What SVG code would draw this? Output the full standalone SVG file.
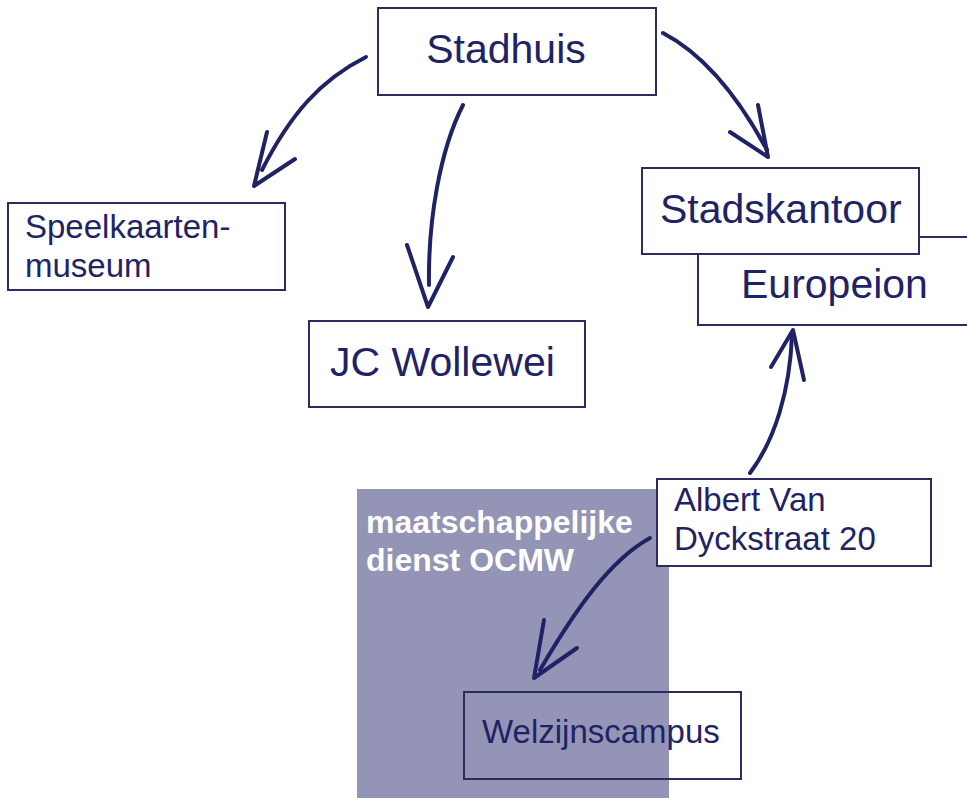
<svg xmlns="http://www.w3.org/2000/svg" width="967" height="798" viewBox="0 0 967 798">
<style>
.box{fill:#ffffff;stroke:#2a2d5e;stroke-width:2}
.t{font-family:"Liberation Sans",Arial,sans-serif;fill:#1f2366}
.big{font-size:41px}
.mid{font-size:33px}
.w{font-family:"Liberation Sans",Arial,sans-serif;fill:#ffffff;font-weight:bold;font-size:32px}
.c{fill:none;stroke:#1f2366;stroke-width:4;stroke-linecap:round;stroke-linejoin:round}
</style>
<rect width="967" height="798" fill="#ffffff"/>
<g id="ocmw">
<rect x="357" y="489" width="312" height="309" fill="#9394b6"/>
<text class="w" x="366" y="533">maatschappelijke</text>
<text class="w" x="366" y="571">dienst OCMW</text>
</g>
<g id="europeion">
<rect class="box" x="698" y="237" width="280" height="88"/>
<text class="t big" x="741" y="298">Europeion</text>
</g>
<g id="stadskantoor">
<rect class="box" x="642" y="168" width="277" height="86"/>
<text class="t big" x="660" y="223">Stadskantoor</text>
</g>
<g id="stadhuis">
<rect class="box" x="378" y="8" width="278" height="87"/>
<text class="t big" x="506" y="63" text-anchor="middle">Stadhuis</text>
</g>
<g id="speelkaarten">
<rect class="box" x="8" y="203" width="277" height="87"/>
<text class="t mid" x="25" y="238">Speelkaarten-</text>
<text class="t mid" x="25" y="277">museum</text>
</g>
<g id="jcwollewei">
<rect class="box" x="309" y="321" width="276" height="86"/>
<text class="t big" x="330" y="376">JC Wollewei</text>
</g>
<g id="albertvan">
<rect class="box" x="657" y="479" width="274" height="87"/>
<text class="t mid" x="674" y="511">Albert Van</text>
<text class="t mid" x="674" y="550">Dyckstraat 20</text>
</g>
<g id="welzijnscampus">
<rect x="464" y="692" width="277" height="87" fill="none" stroke="#2a2d5e" stroke-width="2"/>
<text class="t mid" x="482" y="743">Welzijnscampus</text>
</g>
<g id="connectors">
<path class="c" d="M366,57 C320,80 290,115 262,170"/>
<path class="c" d="M267,132 L254,186 L295,159"/>
<path class="c" d="M463,105 C440,150 428,220 429,285"/>
<path class="c" d="M407,245 L428,307 L453,257"/>
<path class="c" d="M663,33 C705,55 740,100 767,150"/>
<path class="c" d="M758,105 L768,157 L730,132"/>
<path class="c" d="M750,473 C775,440 790,390 792,335"/>
<path class="c" d="M771,367 L793,330 L804,380"/>
<path class="c" d="M650,538 C610,560 575,610 540,670"/>
<path class="c" d="M544,620 L534,678 L577,648"/>
</g>
</svg>
